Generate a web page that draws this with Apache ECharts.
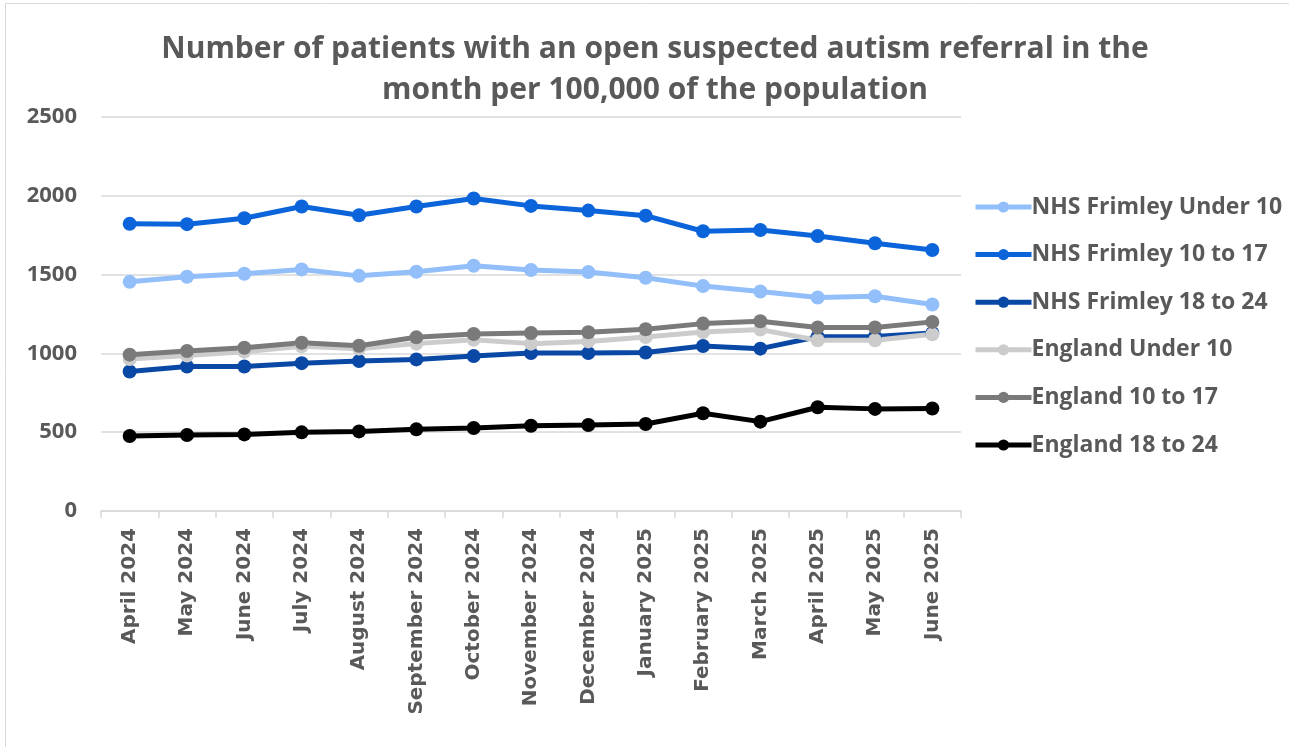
<!DOCTYPE html>
<html>
<head>
<meta charset="utf-8">
<script src="https://cdn.jsdelivr.net/npm/echarts@6/dist/echarts.min.js"></script>
<style>
  html, body { margin: 0; padding: 0; background: #fff; }
  #chart { width: 1289px; height: 747px; }
</style>
</head>
<body>
<div id="chart"></div>
<script>
// Months shown along the x axis
const months = [
  'April 2024', 'May 2024', 'June 2024', 'July 2024', 'August 2024',
  'September 2024', 'October 2024', 'November 2024', 'December 2024',
  'January 2025', 'February 2025', 'March 2025', 'April 2025', 'May 2025', 'June 2025'
];

// Patients with an open suspected autism referral per 100,000 population
const frimleyUnder10 = [1454, 1486, 1505, 1533, 1492, 1518, 1556, 1529, 1516, 1480, 1427, 1393, 1355, 1363, 1310];
const frimley10to17  = [1822, 1820, 1858, 1932, 1877, 1932, 1983, 1936, 1906, 1874, 1775, 1783, 1745, 1699, 1656];
const frimley18to24  = [885, 917, 917, 938, 951, 962, 983, 1002, 1002, 1006, 1047, 1030, 1106, 1108, 1129];
const englandUnder10 = [964, 987, 1011, 1045, 1030, 1062, 1087, 1062, 1076, 1104, 1136, 1151, 1083, 1083, 1121];
const england10to17  = [992, 1015, 1036, 1068, 1049, 1102, 1123, 1129, 1134, 1153, 1189, 1204, 1164, 1164, 1200];
const england18to24  = [476, 482, 486, 499, 505, 518, 527, 541, 546, 552, 620, 567, 658, 648, 650];

const seriesDefs = [
  { name: 'NHS Frimley Under 10', data: frimleyUnder10, color: '#92BFFA' },
  { name: 'NHS Frimley 10 to 17', data: frimley10to17, color: '#0B64DA' },
  { name: 'NHS Frimley 18 to 24', data: frimley18to24, color: '#0A48A6' },
  { name: 'England Under 10', data: englandUnder10, color: '#CCCCCC' },
  { name: 'England 10 to 17', data: england10to17, color: '#7A7A7A' },
  { name: 'England 18 to 24', data: england18to24, color: '#000000' }
];

const FONT = '"Open Sans", "Noto Sans", sans-serif';
const WIDE_FONT = '"DejaVu Sans", Verdana, sans-serif';
const TEXT = '#595959';

const chart = echarts.init(document.getElementById('chart'), null, { renderer: 'canvas' });

chart.setOption({
  backgroundColor: '#ffffff',
  animation: false,
  graphic: [{
    type: 'rect',
    shape: { x: 5.5, y: 3.5, width: 1300, height: 760 },
    style: { fill: 'none', stroke: '#D9D9D9', lineWidth: 1 },
    silent: true
  }],
  title: {
    text: 'Number of patients with an open suspected autism referral in the\nmonth per 100,000 of the population',
    left: 650,
    textAlign: 'center',
    top: 24,
    textStyle: {
      fontFamily: FONT,
      fontWeight: 'bold',
      fontSize: 30,
      color: TEXT,
      lineHeight: 41
    }
  },
  legend: {
    orient: 'vertical',
    left: 973,
    top: 194,
    padding: 0,
    itemWidth: 56,
    itemHeight: 14,
    itemGap: 21.6,
    data: seriesDefs.map(s => s.name),
    lineStyle: { width: 5 },
    textStyle: {
      fontFamily: FONT,
      fontWeight: 'bold',
      fontSize: 23,
      lineHeight: 26,
      color: TEXT,
      padding: [0, 0, 0, -5]
    }
  },
  grid: {
    left: 101,
    right: 328,
    top: 117,
    bottom: 236,
    containLabel: false
  },
  xAxis: {
    type: 'category',
    data: months,
    boundaryGap: true,
    axisLine: { show: true, lineStyle: { color: '#D9D9D9', width: 1.5 } },
    axisTick: { show: true, length: 7, alignWithLabel: false, lineStyle: { color: '#D9D9D9', width: 1.5 } },
    axisLabel: {
      rotate: 90,
      interval: 0,
      margin: 17,
      fontFamily: WIDE_FONT,
      fontWeight: 'bold',
      fontSize: 20,
      color: TEXT
    }
  },
  yAxis: {
    type: 'value',
    min: 0,
    max: 2500,
    interval: 500,
    axisLine: { show: false },
    axisTick: { show: false },
    splitLine: { show: true, lineStyle: { color: '#D9D9D9', width: 1.5 } },
    axisLabel: {
      margin: 24,
      fontFamily: FONT,
      fontWeight: 'bold',
      fontSize: 22,
      color: TEXT,
      formatter: v => String(v)
    }
  },
  series: seriesDefs.map(s => ({
    name: s.name,
    type: 'line',
    data: s.data,
    symbol: 'circle',
    symbolSize: 14,
    showSymbol: true,
    lineStyle: { width: 5, color: s.color },
    itemStyle: { color: s.color },
    z: 2
  }))
});
</script>
</body>
</html>
